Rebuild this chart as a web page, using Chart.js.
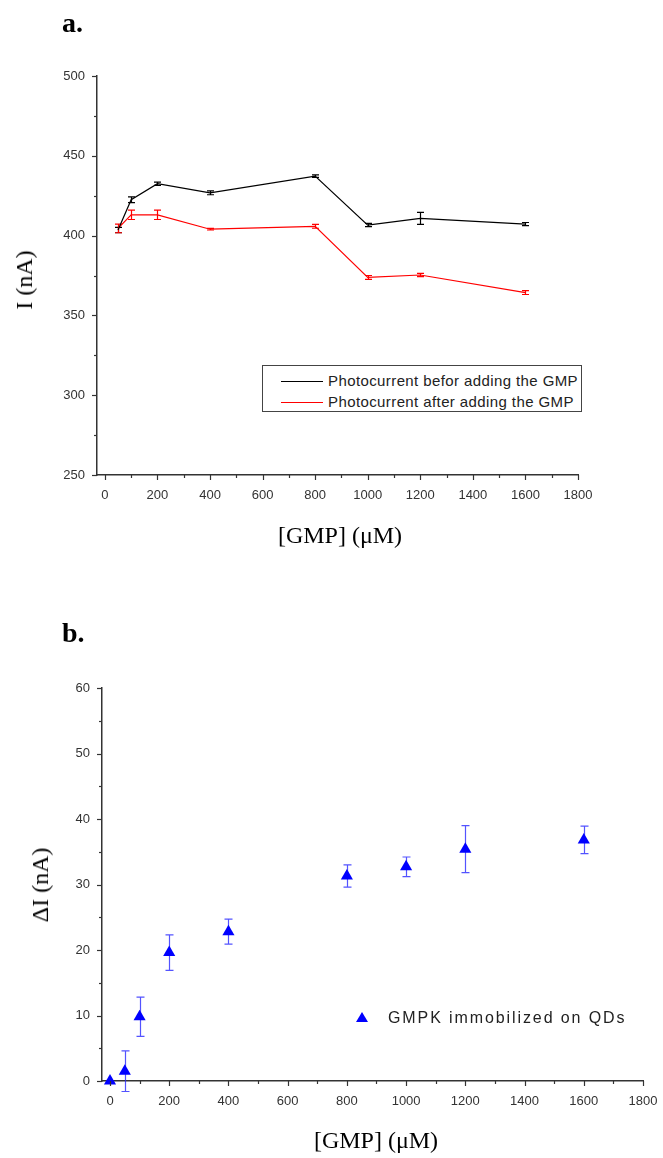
<!DOCTYPE html>
<html>
<head>
<meta charset="utf-8">
<script src="https://cdn.jsdelivr.net/npm/chart.js@4.4.0/dist/chart.umd.min.js"></script>
<style>
  body { margin: 0; background: #fff; }
  #wrap { position: relative; width: 663px; height: 1158px; overflow: hidden; background: #fff; }
  canvas { position: absolute; left: 0; }
  .serif { position: absolute; font-family: "Liberation Serif", "Times New Roman", serif; color: #000; white-space: nowrap; line-height: 1; }
  .panel { font-weight: bold; font-size: 28px; }
  .axt { font-size: 24px; transform: translate(-50%, -50%); }
  .axt.rot { transform: translate(-50%, -50%) rotate(-90deg); }
  .legend { position: absolute; box-sizing: border-box; border: 1.5px solid #444; background: #fff; }
  .row { position: absolute; left: 0; height: 18px; }
  .swatch { position: absolute; left: 18px; top: 9px; width: 42px; height: 0; border-top: 1.3px solid #000; }
  .ltext { position: absolute; font-family: "Liberation Sans", Arial, sans-serif; color: #222; white-space: nowrap; line-height: 18px; }
  .tri { position: absolute; width: 0; height: 0; border-left: 6px solid transparent; border-right: 6px solid transparent; border-bottom: 10px solid #0000ff; }
</style>
</head>
<body>
<div id="wrap">
  <canvas id="chartA" width="663" height="560" style="top:0"></canvas>
  <canvas id="chartB" width="663" height="558" style="top:600px"></canvas>

  <div class="serif panel" style="left:62px; top:9px;">a.</div>
  <div class="serif axt rot" style="left:24px; top:280px;">I (nA)</div>
  <div class="serif axt" style="left:340px; top:535px;">[GMP] (μM)</div>

  <div class="legend" id="legendA" style="left:262px; top:365px; width:320px; height:47px;"></div>

  <div class="serif panel" style="left:62px; top:619px;">b.</div>
  <div class="serif axt rot" style="left:40px; top:885px;">ΔI (nA)</div>
  <div class="serif axt" style="left:376px; top:1140px;">[GMP] (μM)</div>

  <div class="tri" style="left:356px; top:1012px;"></div>
  <div class="ltext" id="legendB" style="left:388px; top:1009px; font-size:16px; letter-spacing:1.9px;"></div>
</div>

<script>
// Panel a: photocurrent before / after adding GMP
const gmpA = [50, 100, 200, 400, 800, 1000, 1200, 1600];
const beforeVals = [403.5, 422.5, 432.5, 426.8, 437.3, 406.6, 410.8, 407.2];
const beforeErr  = [1.7, 1.8, 1.0, 1.2, 0.8, 1.0, 3.8, 1.0];
const afterVals  = [404.5, 413.0, 413.0, 404.0, 405.8, 373.8, 375.3, 364.3];
const afterErr   = [2.7, 2.9, 2.9, 0.5, 1.2, 1.2, 1.0, 1.2];
const labelBefore = 'Photocurrent befor adding the GMP';
const labelAfter  = 'Photocurrent after adding the GMP';

// Panel b: current change for GMPK immobilized on QDs
const gmpB = [0, 50, 100, 200, 400, 800, 1000, 1200, 1600];
const deltaVals = [0, 1.5, 9.8, 19.6, 22.8, 31.3, 32.7, 35.4, 36.8];
const deltaErr  = [0, 3.1, 3.0, 2.7, 1.9, 1.7, 1.5, 3.6, 2.1];
const labelDelta = 'GMPK immobilized on QDs';

const xTicks = [0, 200, 400, 600, 800, 1000, 1200, 1400, 1600, 1800];
const yTicksA = [250, 300, 350, 400, 450, 500];
const yTicksB = [0, 10, 20, 30, 40, 50, 60];

const pts = (xs, ys) => xs.map((x, i) => ({ x: x, y: ys[i] }));

// Vertical error bars with caps, drawn through the chart's scales
const errorBars = {
  id: 'errorBars',
  beforeDatasetsDraw(chart) {
    const ctx = chart.ctx;
    const ys = chart.scales.y;
    chart.data.datasets.forEach((ds, di) => {
      if (!ds.errors) return;
      const meta = chart.getDatasetMeta(di);
      ctx.save();
      ctx.strokeStyle = ds.errorColor || ds.borderColor;
      ctx.lineWidth = 1.2;
      meta.data.forEach((el, i) => {
        const e = ds.errors[i];
        if (!e) return;
        const v = ds.data[i].y;
        const x = Math.round(el.x) + 0.5;
        const yt = ys.getPixelForValue(v + e);
        const yb = ys.getPixelForValue(v - e);
        const cap = ds.capHalf || 3.5;
        ctx.beginPath();
        ctx.moveTo(x, yt); ctx.lineTo(x, yb);
        ctx.moveTo(x - cap, yt); ctx.lineTo(x + cap, yt);
        ctx.moveTo(x - cap, yb); ctx.lineTo(x + cap, yb);
        ctx.stroke();
      });
      ctx.restore();
    });
  }
};

// Outward major/minor tick marks on both axes
const axisTicks = {
  id: 'axisTicks',
  afterDraw(chart, args, opts) {
    const ctx = chart.ctx;
    ctx.save();
    ctx.strokeStyle = opts.color;
    ctx.lineWidth = 1.2;
    ['x', 'y'].forEach(id => {
      const s = chart.scales[id];
      const o = opts[id];
      const start = Math.ceil(s.min / o.minor) * o.minor;
      for (let v = start; v <= s.max + 1e-9; v += o.minor) {
        const r = v / o.major;
        const isMajor = Math.abs(r - Math.round(r)) < 1e-6;
        const len = isMajor ? opts.majorLen : opts.minorLen;
        const p = Math.round(s.getPixelForValue(v)) + 0.5;
        ctx.beginPath();
        if (id === 'x') { ctx.moveTo(p, s.top); ctx.lineTo(p, s.top + len); }
        else { ctx.moveTo(s.right, p); ctx.lineTo(s.right - len, p); }
        ctx.stroke();
      }
    });
    ctx.restore();
  }
};

const tickFont = { family: '"Liberation Sans", Arial, sans-serif', size: 13 };
const plainNumber = v => String(v);

function axes(xMin, yMin, yMax, yTickList, yWidth) {
  return {
    x: {
      type: 'linear', min: xMin, max: 1800,
      afterBuildTicks: s => { s.ticks = xTicks.map(v => ({ value: v })); },
      ticks: { font: tickFont, color: '#333', padding: 13, maxRotation: 0, callback: plainNumber },
      grid: { display: false, drawTicks: false },
      border: { display: true, color: '#333', width: 1.5 },
      afterFit: s => { s.height = 40; s.paddingLeft = 0; s.paddingRight = 0; }
    },
    y: {
      type: 'linear', min: yMin, max: yMax,
      afterBuildTicks: s => { s.ticks = yTickList.map(v => ({ value: v })); },
      ticks: { font: tickFont, color: '#333', padding: 12, callback: plainNumber },
      grid: { display: false, drawTicks: false },
      border: { display: true, color: '#333', width: 1.5 },
      afterFit: s => { s.width = yWidth; s.paddingTop = 0; s.paddingBottom = 0; }
    }
  };
}

const common = {
  responsive: false,
  animation: false,
  devicePixelRatio: 1,
  events: []
};

const chartA = new Chart(document.getElementById('chartA'), {
  type: 'scatter',
  data: {
    datasets: [
      { label: labelBefore, data: pts(gmpA, beforeVals), errors: beforeErr,
        showLine: true, borderColor: '#000', borderWidth: 1.2, pointRadius: 0, clip: false },
      { label: labelAfter, data: pts(gmpA, afterVals), errors: afterErr,
        showLine: true, borderColor: '#ff0000', borderWidth: 1.2, pointRadius: 0, clip: false }
    ]
  },
  options: Object.assign({}, common, {
    layout: { padding: { left: 0, top: 76, right: 85, bottom: 45 } },
    scales: axes(-30, 250, 500, yTicksA, 97),
    plugins: {
      legend: { display: false }, tooltip: { enabled: false },
      axisTicks: { color: '#333', majorLen: 5, minorLen: 3, x: { major: 200, minor: 100 }, y: { major: 50, minor: 25 } }
    }
  }),
  plugins: [errorBars, axisTicks]
});

const chartB = new Chart(document.getElementById('chartB'), {
  type: 'scatter',
  data: {
    datasets: [
      { label: labelDelta, data: pts(gmpB, deltaVals), errors: deltaErr,
        pointStyle: 'triangle', pointRadius: 7, backgroundColor: '#0000ff', borderColor: '#0000ff',
        borderWidth: 0, errorColor: 'rgba(40,40,255,0.8)', capHalf: 4, clip: false }
    ]
  },
  options: Object.assign({}, common, {
    layout: { padding: { left: 0, top: 88, right: 20, bottom: 37 } },
    scales: axes(-27, 0, 60, yTicksB, 102),
    plugins: {
      legend: { display: false }, tooltip: { enabled: false },
      axisTicks: { color: '#333', majorLen: 5, minorLen: 3, x: { major: 200, minor: 100 }, y: { major: 10, minor: 5 } }
    }
  }),
  plugins: [errorBars, axisTicks]
});

// Legends built from the dataset labels and colours
(function buildLegends() {
  const box = document.getElementById('legendA');
  chartA.data.datasets.forEach((ds, i) => {
    const row = document.createElement('div');
    row.className = 'row';
    row.style.top = (6 + i * 21) + 'px';
    row.style.width = '100%';
    const sw = document.createElement('div');
    sw.className = 'swatch';
    sw.style.borderTopColor = ds.borderColor;
    const tx = document.createElement('div');
    tx.className = 'ltext';
    tx.style.left = '65px';
    tx.style.top = '0px';
    tx.style.fontSize = '15px';
    tx.style.letterSpacing = '0.4px';
    tx.textContent = ds.label;
    row.appendChild(sw);
    row.appendChild(tx);
    box.appendChild(row);
  });
  document.getElementById('legendB').textContent = chartB.data.datasets[0].label;
})();
</script>
</body>
</html>
